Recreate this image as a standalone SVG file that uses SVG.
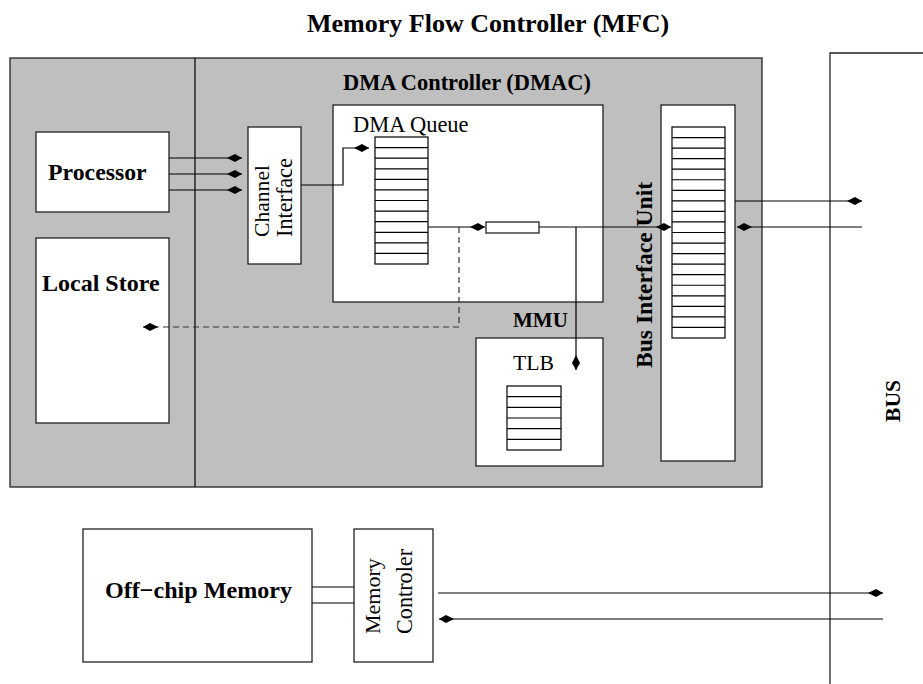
<svg xmlns="http://www.w3.org/2000/svg" width="923" height="684" viewBox="0 0 923 684">
<style>
.box{fill:#fff;stroke:#222;stroke-width:1.3}
.gray{fill:#bfbfbf;stroke:#222;stroke-width:1.3}
.ln{fill:none;stroke:#000;stroke-width:1.2}
.dash{fill:none;stroke:#333;stroke-width:1.2;stroke-dasharray:6,4}
.row{fill:none;stroke:#000;stroke-width:1.2}
.b{font-family:"Liberation Serif","Times New Roman",serif;font-weight:bold;fill:#000}
.r{font-family:"Liberation Serif","Times New Roman",serif;fill:#000}
</style>
<defs>
<marker id="ah" markerUnits="userSpaceOnUse" markerWidth="18" markerHeight="10" viewBox="-16 -5 17 10" refX="0" refY="0" orient="auto">
<path d="M0,0 L-7,-4 L-15,0 L-7,4 Z" fill="#000"/>
</marker>
</defs>
<rect width="923" height="684" fill="#fff"/>
<text class="b" x="307" y="32" font-size="26">Memory Flow Controller (MFC)</text>

<g id="mfc">
<rect class="gray" x="10" y="58" width="752" height="429"/>
<line class="ln" x1="195" y1="58" x2="195" y2="487" stroke="#222"/>
<text class="b" x="343" y="90" font-size="22.4">DMA Controller (DMAC)</text>
</g>

<g id="bus">
<path d="M830,684 L830,53 L923,53" fill="#fff" stroke="#222" stroke-width="1.3"/>
<text class="b" font-size="21.6" transform="translate(900,422) rotate(-90)">BUS</text>
</g>

<g id="processor">
<rect class="box" x="36" y="132" width="133" height="80"/>
<text class="b" x="48" y="180" font-size="23.8">Processor</text>
</g>

<g id="localstore">
<rect class="box" x="36" y="238" width="133" height="185"/>
<text class="b" x="42" y="291" font-size="24">Local Store</text>
</g>

<g id="channel">
<rect class="box" x="248" y="127" width="53" height="137"/>
<text class="r" font-size="21.6" transform="translate(269,237) rotate(-90)">Channel</text>
<text class="r" font-size="22.2" transform="translate(292,237) rotate(-90)">Interface</text>
</g>

<g id="dmaqueue">
<rect class="box" x="333" y="105" width="270" height="197"/>
<text class="r" x="353" y="132" font-size="22.5">DMA Queue</text>
<rect class="row" x="375" y="137" width="53" height="127"/>
<path class="row" d="M375,147.6H428M375,158.2H428M375,168.8H428M375,179.3H428M375,189.9H428M375,200.5H428M375,211.1H428M375,221.7H428M375,232.3H428M375,242.8H428M375,253.4H428"/>
<rect class="box" x="486" y="222" width="53" height="11"/>
</g>

<g id="mmu">
<text class="b" x="513" y="327" font-size="21">MMU</text>
<rect class="box" x="476" y="338" width="127" height="128"/>
<text class="r" x="513" y="370" font-size="21.7">TLB</text>
<rect class="row" x="507" y="386" width="54" height="64"/>
<path class="row" d="M507,396.7H561M507,407.3H561M507,418H561M507,428.7H561M507,439.3H561"/>
</g>

<g id="biu">
<rect class="box" x="661" y="105" width="74" height="356"/>
<rect class="row" x="672" y="127" width="53" height="211"/>
<path class="row" d="M672,137.55H725M672,148.1H725M672,158.65H725M672,169.2H725M672,179.75H725M672,190.3H725M672,200.85H725M672,211.4H725M672,221.95H725M672,232.5H725M672,243.05H725M672,253.6H725M672,264.15H725M672,274.7H725M672,285.25H725M672,295.8H725M672,306.35H725M672,316.9H725M672,327.45H725"/>
<text class="b" font-size="23.6" transform="translate(652,368) rotate(-90)">Bus Interface Unit</text>
</g>

<g id="offchip">
<rect class="box" x="83" y="529" width="229" height="133"/>
<text class="b" x="105" y="598" font-size="24.1">Off−chip Memory</text>
</g>

<g id="memctrl">
<rect class="box" x="354" y="529" width="79" height="133"/>
<text class="r" font-size="22" transform="translate(380,634) rotate(-90)">Memory</text>
<text class="r" font-size="22.2" transform="translate(412,634) rotate(-90)">Controler</text>
</g>

<g id="connectors">
<line class="ln" x1="169" y1="158" x2="242" y2="158" marker-end="url(#ah)"/>
<line class="ln" x1="169" y1="174" x2="242" y2="174" marker-end="url(#ah)"/>
<line class="ln" x1="169" y1="190" x2="242" y2="190" marker-end="url(#ah)"/>
<path class="ln" d="M301,185 H343 V148 H369" marker-end="url(#ah)"/>
<line class="ln" x1="428" y1="227" x2="485" y2="227" marker-end="url(#ah)"/>
<line class="ln" x1="539" y1="227" x2="671" y2="227" marker-end="url(#ah)"/>
<line class="ln" x1="576" y1="227" x2="576" y2="370" marker-end="url(#ah)"/>
<path class="dash" d="M459,227 V327 H143" marker-end="url(#ah)"/>
<line class="ln" x1="735" y1="201" x2="862" y2="201" marker-end="url(#ah)"/>
<line class="ln" x1="862" y1="227" x2="737" y2="227" marker-end="url(#ah)"/>
<line class="ln" x1="312" y1="587" x2="354" y2="587"/>
<line class="ln" x1="312" y1="603" x2="354" y2="603"/>
<line class="ln" x1="438" y1="593" x2="883" y2="593" marker-end="url(#ah)"/>
<line class="ln" x1="883" y1="619" x2="439" y2="619" marker-end="url(#ah)"/>
</g>
</svg>
